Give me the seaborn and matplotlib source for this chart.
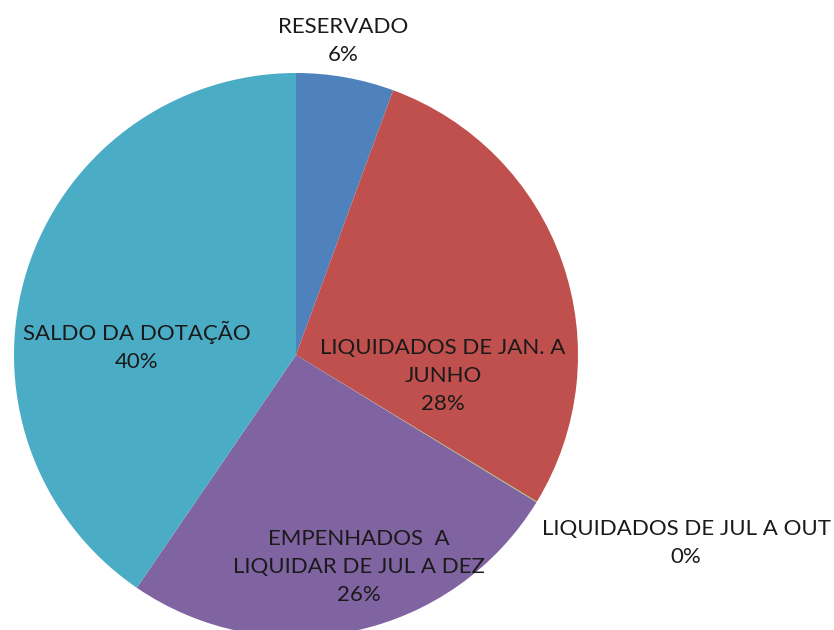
import matplotlib
matplotlib.use("Agg")
import matplotlib.pyplot as plt
import seaborn as sns
import numpy as np

categories = ["RESERVADO", "LIQUIDADOS DE JAN. A\nJUNHO", "LIQUIDADOS DE JUL A OUT",
              "EMPENHADOS  A\nLIQUIDAR DE JUL A DEZ", "SALDO DA DOTAÇÃO"]
values = [5.6, 28.1, 0.05, 25.8, 40.45]
colors = ["#4F81BD", "#C0504D", "#9BBB59", "#8064A2", "#4BACC6"]

# label positions in data units (pie radius = 1)
label_pos = [(0.167, 1.113), (0.521, -0.074), (1.383, -0.667), (0.223, -0.752), (-0.564, 0.032)]

sns.set_theme(style="white")
plt.rcParams['font.family'] = ['Lato', 'DejaVu Sans']

fig = plt.figure(figsize=(8.34, 6.3), dpi=100)
W, H = 834, 630
cx, cy, r = 296, 355, 282
ax = fig.add_axes([(cx - r) / W, (H - cy - r) / H, 2 * r / W, 2 * r / H])
ax.pie(values, colors=colors, startangle=90, counterclock=False, radius=1,
       wedgeprops=dict(linewidth=0))
ax.set_xlim(-1, 1)
ax.set_ylim(-1, 1)
ax.set_aspect('auto')
ax.axis('off')

total = sum(values)
for cat, v, (lx, ly) in zip(categories, values, label_pos):
    ax.text(lx, ly, f"{cat}\n{round(v / total * 100):.0f}%", ha='center', va='center',
            fontsize=16, color='#1a1a1a', linespacing=1.5, clip_on=False)

fig.savefig("out.png", dpi=100)
